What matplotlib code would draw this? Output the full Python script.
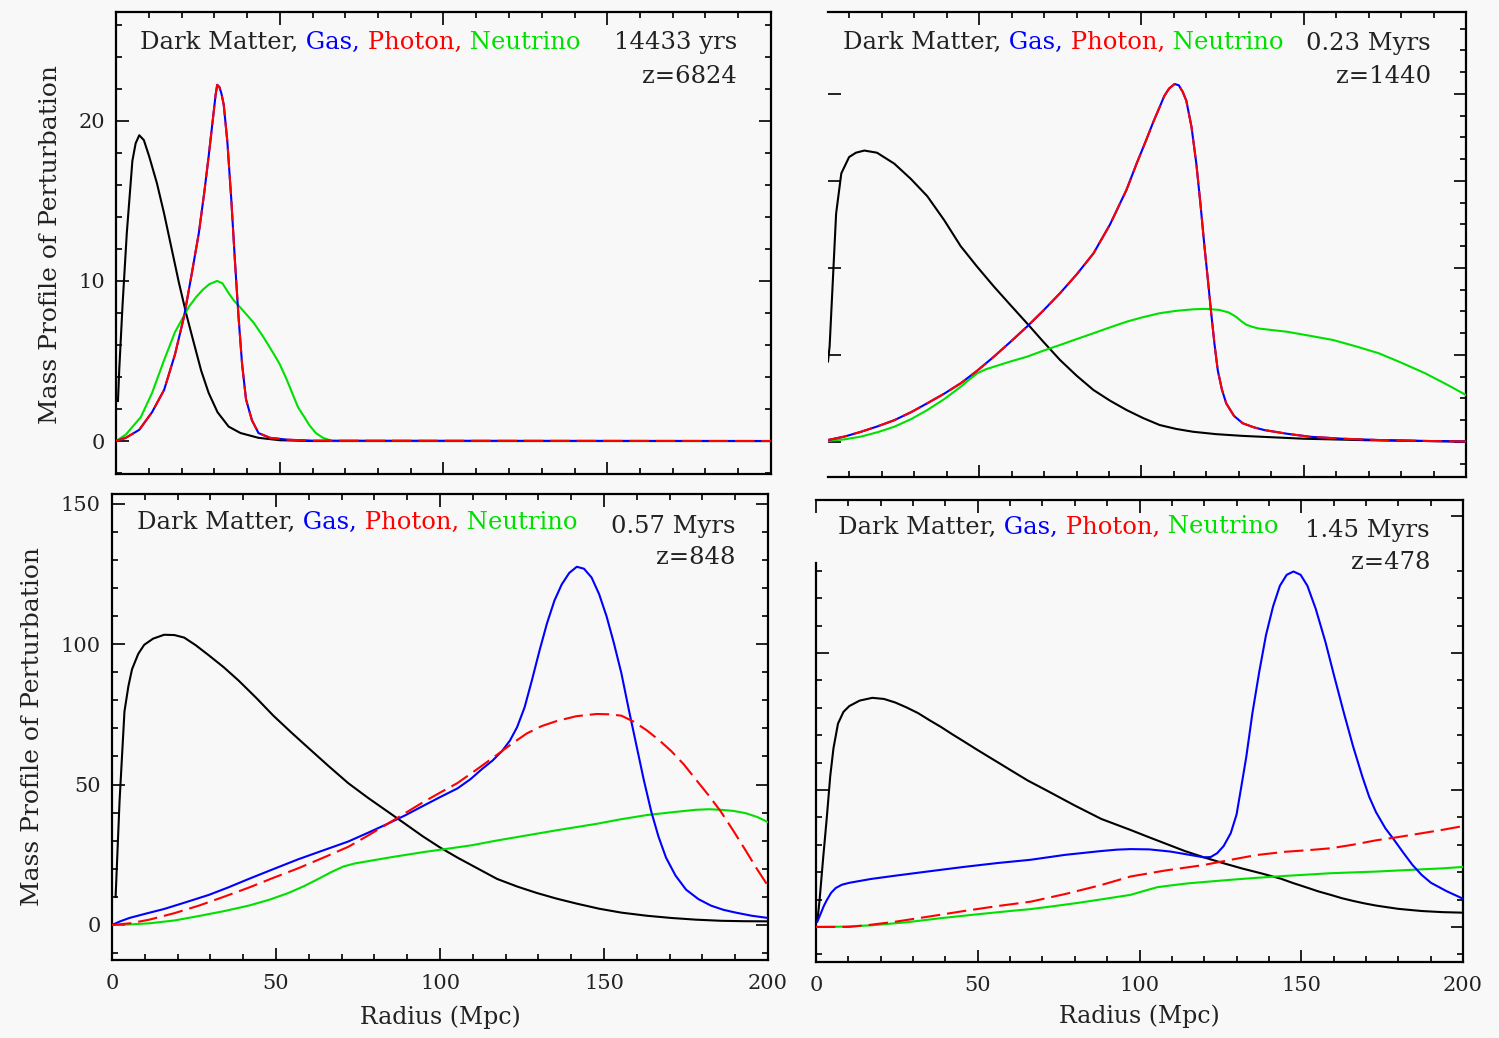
import matplotlib
matplotlib.use("Agg")
import matplotlib.pyplot as plt
from matplotlib.ticker import MultipleLocator, NullFormatter, FixedLocator

plt.rcParams['font.family'] = ['DejaVu Serif', 'DejaVu Sans']
plt.rcParams['lines.scale_dashes'] = False

# ---------------- data ----------------
# Panel 1 : 14433 yrs, z=6824
p1_dm_x = [0.6, 1.0, 2.0, 3.3, 5.0, 6.0, 7.1, 8.5, 10.1, 12.5, 14.7, 17, 19.2, 21.5, 23.8, 26, 28.3,
           31, 34.4, 38, 43.5, 50, 60, 200]
p1_dm_y = [2.5, 4.5, 8.5, 13, 17.5, 18.6, 19.1, 18.8, 17.8, 16.1, 14.2, 12, 9.9, 7.9, 6.1, 4.4, 3.0,
           1.8, 0.9, 0.5, 0.2, 0.05, 0, 0]
p1_gas_x = [0, 3, 7.1, 11, 14.7, 18, 20.8, 23, 25.3, 27, 28.3, 29.8, 30.4, 30.9, 31.6, 32.2, 32.9, 34,
            35.2, 36.3, 37.4, 38.5, 39.7, 41.5, 43.5, 47, 52.5, 60, 200]
p1_gas_y = [0, 0.2, 0.7, 1.8, 3.2, 5.4, 7.8, 10.3, 13, 15.6, 17.8, 20.5, 21.6, 22.25, 22.1, 21.7, 21.0, 18.7,
            15.1, 11.3, 7.8, 4.8, 2.6, 1.3, 0.5, 0.2, 0.08, 0.02, 0]
p1_pho_x = p1_gas_x
p1_pho_y = p1_gas_y
p1_neu_x = [0, 3, 7.6, 11, 14.7, 18, 22.3, 24.5, 26.5, 28.5, 30.9, 32.5, 34.2, 35.9, 39, 42, 45, 48,
            50, 52, 54, 55.6, 57.5, 59, 61, 63.2, 66, 200]
p1_neu_y = [0, 0.4, 1.5, 3.0, 5.06, 6.8, 8.4, 9.0, 9.45, 9.8, 10.0, 9.85, 9.3, 8.8, 8.1, 7.4, 6.5, 5.5,
            4.8, 3.9, 2.9, 2.1, 1.5, 1.0, 0.5, 0.2, 0, 0]

# Panel 2 : 0.23 Myrs, z=1440
p2_dm_x = [3.4, 3.9, 4.9, 5.9, 7.5, 9.9, 12, 14.6, 18.5, 23.8, 28.9, 34, 39.2, 44.3, 49.4, 54.5, 59.6,
           64.7, 69.8, 74.9, 80, 85.2, 90.3, 95.4, 100.5, 105.6, 110.7, 115.9, 123, 131.2, 150, 170, 200]
p2_dm_y = [3.7, 4.4, 7.45, 10.5, 12.35, 13.1, 13.3, 13.4, 13.3, 12.8, 12.1, 11.3, 10.2, 9.0, 8.05, 7.15,
           6.3, 5.46, 4.6, 3.77, 3.05, 2.39, 1.9, 1.47, 1.1, 0.78, 0.6, 0.47, 0.36, 0.28, 0.15, 0.08, 0.02]
p2_gas_x = [3.4, 8.5, 13.6, 18.7, 23.8, 29, 34, 39.2, 44.3, 49.4, 54.5, 59.6, 64.7, 69.8, 74.9, 80,
            85.2, 90.3, 95.4, 98.5, 101.5, 103.6, 105.6, 107, 108.5, 110.2, 111.5, 112.7, 113.8, 115.4,
            116.9, 118.2, 119.4, 120.5, 121.5, 122.5, 123.5, 124.8, 126.1, 128.5, 131.2, 134.5, 137.8,
            144.8, 151.9, 162, 173, 186, 200]
p2_gas_y = [0.09, 0.25, 0.47, 0.72, 1.0, 1.37, 1.78, 2.22, 2.7, 3.28, 3.92, 4.6, 5.3, 6.05, 6.84, 7.7,
            8.67, 10.0, 11.6, 12.8, 13.9, 14.7, 15.4, 15.9, 16.25, 16.46, 16.4, 16.1, 15.7, 14.5,
            12.8, 10.9, 9.0, 7.4, 5.9, 4.5, 3.3, 2.4, 1.78, 1.2, 0.86, 0.68, 0.55, 0.38, 0.24, 0.15,
            0.09, 0.05, 0.02]
p2_pho_x = p2_gas_x
p2_pho_y = p2_gas_y
p2_neu_x = [3.4, 8.5, 13.6, 18.7, 23.8, 29, 34, 39.2, 44.3, 47, 49.4, 52, 54.5, 59.6, 64.7, 69.8, 74.9,
            80, 85.2, 90.3, 95.4, 100.5, 105.6, 110.7, 115.9, 120, 124, 126.8, 129.1, 130.8, 132.2, 134,
            136, 140, 144.8, 152, 159, 166, 173.1, 180, 187.4, 194, 200]
p2_neu_y = [0.05, 0.12, 0.25, 0.45, 0.7, 1.05, 1.47, 1.97, 2.54, 2.88, 3.16, 3.34, 3.46, 3.7, 3.92, 4.2,
            4.46, 4.73, 5.0, 5.27, 5.53, 5.74, 5.92, 6.03, 6.1, 6.12, 6.07, 5.96, 5.76, 5.55, 5.4, 5.3,
            5.22, 5.15, 5.07, 4.88, 4.69, 4.4, 4.08, 3.65, 3.16, 2.65, 2.16]

# Panel 3 : 0.57 Myrs, z=848
p3_dm_x = [1.1, 2.3, 3.8, 5.0, 6.1, 8.0, 9.8, 12.5, 15.9, 19, 22, 25.5, 29.5, 34, 38.6, 44, 49.2, 54.5,
           59.8, 66, 72, 78, 84, 89.5, 94.7, 100, 105.3, 111.5, 117.4, 123.5, 129.5, 135.5, 141.7, 148.5,
           155.3, 163, 170.5, 178, 185.6, 192.5, 200]
p3_dm_y = [10, 44, 76, 85, 91, 96.5, 99.7, 101.9, 103.3, 103.2, 102.3, 99.6, 96, 91.8, 87, 80.8, 74.5,
           68.7, 63.1, 56.6, 50.5, 45.3, 40.4, 35.9, 31.6, 27.6, 24, 20.1, 16.4, 13.7, 11.4, 9.4, 7.6,
           5.8, 4.4, 3.3, 2.5, 1.9, 1.5, 1.35, 1.3]
p3_gas_x = [0, 2.5, 5.3, 10.5, 15.9, 22.5, 29.5, 35.5, 41.7, 49, 56.8, 64.5, 72, 78, 84, 89.5, 94.7,
            100, 105.3, 109.3, 112.9, 116, 118.9, 121.3, 123.5, 125.8, 128, 130.3, 132.6, 134.9, 137.1,
            139.4, 141.7, 143.9, 146.2, 148.5, 150.8, 153, 155.3, 157.5, 159.8, 162.1, 164.4, 166.6,
            168.9, 171.8, 175, 178.8, 182.6, 186.4, 190.2, 195, 200]
p3_gas_y = [0, 1.3, 2.5, 4.1, 5.7, 8.1, 10.7, 13.4, 16.4, 19.8, 23.4, 26.6, 29.7, 32.8, 36, 39.1, 42.3,
            45.5, 48.6, 51.9, 55.6, 58.5, 61.9, 65.6, 70.4, 77.5, 87, 97.5, 107.3, 115.5, 121.2, 125.3,
            127.5, 126.8, 123.7, 117.8, 109.8, 100.4, 89.6, 77, 64.4, 51.8, 40.4, 31.5, 24, 17.6,
            12.6, 9.2, 6.9, 5.4, 4.4, 3.3, 2.5]
p3_pho_x = [0, 5.5, 11.4, 19, 26.5, 34, 41.7, 49, 56.8, 64.5, 72, 78, 84, 89.5, 94.7, 100, 105.3, 111.5,
            117.4, 122, 126.5, 131, 135.6, 141.5, 147.7, 151.5, 155.3, 159, 162.9, 166.7, 170.5, 174.3,
            178, 181.8, 185.6, 189.4, 193.2, 196.6, 200]
p3_pho_y = [0, 0.6, 1.9, 4.2, 6.9, 10.0, 13.3, 16.7, 20.2, 24.0, 27.8, 31.8, 36, 39.9, 43.6, 47.1, 50.5,
            55.6, 60.6, 64.6, 68.2, 70.8, 72.6, 74.3, 75.1, 75.0, 74.5, 72.4, 69.4, 65.9, 61.9, 57.2,
            51.8, 46.3, 40.4, 33.6, 26.5, 20.0, 13.9]
p3_neu_x = [0, 5.5, 11.4, 19, 26.5, 34, 41.7, 48, 53.8, 58.5, 62.9, 66.8, 70.5, 74, 78, 86, 94.7, 102,
            109.8, 117, 125, 136, 147.7, 155, 162.9, 170.5, 178, 182, 185.6, 189.5, 193.2, 196.8, 200]
p3_neu_y = [0, 0.2, 0.6, 1.6, 3.2, 4.9, 6.9, 9.0, 11.4, 13.8, 16.4, 18.8, 20.8, 21.9, 22.7, 24.3, 25.9,
            27.1, 28.4, 30.0, 31.6, 33.8, 36, 37.6, 39.1, 40.1, 41, 41.2, 41, 40.6, 39.8, 38.4, 36.6]

# Panel 4 : 1.45 Myrs, z=478
p4_dm_x = [0.5, 1.1, 2.2, 3.3, 4.4, 5.4, 6.8, 8.5, 10.3, 13.5, 17.4, 21, 24.5, 28, 31.6, 35, 38.6,
           42, 45.7, 49.2, 52.8, 56.3, 59.9, 65.5, 71.3, 80, 88.2, 97.2, 103, 108.5, 114, 119.9, 125.8,
           131.8, 137.8, 143.7, 147.5, 151.4, 155.2, 159.1, 162.5, 166, 169.5, 173.1, 176.5, 180,
           183.6, 187.3, 193.6, 200]
p4_dm_y = [3, 9.7, 25, 39.4, 55, 65.2, 74.2, 78.5, 80.6, 82.6, 83.6, 83.2, 81.9, 80.1, 78, 75.5, 73,
           70.4, 67.7, 65.1, 62.5, 60, 57.4, 53.4, 49.8, 44.3, 39.4, 35.4, 32.7, 30.2, 27.7, 25.4, 23.3,
           21.3, 19.5, 17.6, 16.0, 14.5, 13.0, 11.7, 10.5, 9.5, 8.6, 7.8, 7.2, 6.6, 6.2, 5.8, 5.4, 5.2]
p4_gas_x = [0.4, 1.5, 2.4, 3.3, 4.7, 6.1, 8, 10.3, 17, 24.5, 35, 45.7, 56, 66.3, 77, 88.2, 93, 97.2,
            103, 109.6, 115, 119.9, 122, 124, 126, 128.2, 130, 131.3, 133, 134.9, 137, 139.1, 141.3,
            143.4, 145.5, 147.6, 149.8, 151.9, 154.5, 157.5, 160.3, 163.2, 166, 168.9, 171, 173.1,
            176, 178.8, 181.6, 184.4, 187.2, 190.1, 195, 200]
p4_gas_y = [1.9, 5, 7.6, 9.7, 12.5, 14.2, 15.4, 16.1, 17.5, 18.7, 20.3, 21.9, 23.3, 24.5, 26.3, 27.7,
            28.2, 28.4, 28.3, 27.5, 26.4, 25.4, 25.5, 26.9, 29.5, 34.2, 41, 50, 62, 78, 93, 106.5, 117,
            124.5, 128.5, 129.7, 128.5, 124.5, 116, 103.9, 91, 78, 66, 54.8, 47.5, 41.9, 36,
            31.6, 27, 22.6, 19, 16.1, 13, 10.3]
p4_pho_x = [0, 10.3, 17, 24.5, 35, 45.7, 56, 66.3, 77, 88.2, 97.2, 108, 119.9, 128.2, 136, 144.8,
            152, 159.1, 166, 173.1, 180, 187.3, 194, 200]
p4_pho_y = [0, 0, 0.8, 1.9, 3.8, 5.8, 7.6, 9.2, 12, 15.3, 18.4, 20.6, 22.6, 24.5, 26.2, 27.4,
            28.0, 28.7, 30.0, 31.6, 32.8, 34.2, 35.5, 36.8]
p4_neu_x = [0, 8, 17.4, 28, 38.6, 49, 59.9, 66.3, 73, 81.1, 89, 97.2, 101, 105.5, 110, 115, 121, 128.2,
            136, 144.8, 152, 159.1, 166, 173.1, 180, 187, 194, 200]
p4_neu_y = [0, 0.1, 0.6, 1.7, 3.2, 4.5, 5.8, 6.5, 7.5, 8.8, 10.2, 11.7, 13.0, 14.5, 15.2, 15.9, 16.5,
            17.2, 17.9, 18.6, 19.1, 19.6, 19.9, 20.2, 20.6, 21.0, 21.4, 21.9]

times = ["14433 yrs", "0.23 Myrs", "0.57 Myrs", "1.45 Myrs"]
redshifts = ["z=6824", "z=1440", "z=848", "z=478"]
legend_words = ["Dark Matter,", " Gas,", " Photon,", " Neutrino"]
xticks_labels = ["0", "50", "100", "150", "200"]

# ---------------- style ----------------
BG = '#f8f8f8'
C_TXT = '#222222'
C_DM, C_GAS, C_PHO, C_NEU = '#000000', '#0000ff', '#ff0000', '#00e000'
LW = 1.5
DASH = (14, 5)
FS_TITLE = 17.5

fig = plt.figure(figsize=(14.99, 10.38), dpi=100, facecolor=BG)

W, H = 1499.0, 1038.0
def box(l, r, t, b):
    return [l / W, 1 - b / H, (r - l) / W, (b - t) / H]

axes = [
    fig.add_axes(box(116, 771, 12, 474)),
    fig.add_axes(box(828, 1466, 12, 477)),
    fig.add_axes(box(112, 768, 494, 960)),
    fig.add_axes(box(816, 1463, 500, 962)),
]

data = [
    (p1_dm_x, p1_dm_y, p1_gas_x, p1_gas_y, p1_pho_x, p1_pho_y, p1_neu_x, p1_neu_y),
    (p2_dm_x, p2_dm_y, p2_gas_x, p2_gas_y, p2_pho_x, p2_pho_y, p2_neu_x, p2_neu_y),
    (p3_dm_x, p3_dm_y, p3_gas_x, p3_gas_y, p3_pho_x, p3_pho_y, p3_neu_x, p3_neu_y),
    (p4_dm_x, p4_dm_y, p4_gas_x, p4_gas_y, p4_pho_x, p4_pho_y, p4_neu_x, p4_neu_y),
]

xlims = [(0, 200), (3.4, 200), (0, 200), (0, 200)]
ylims = [(-2.06, 26.8), (-1.61, 19.77), (-12.46, 153.4), (-12.8, 155.8)]
ymajor = [10, 4, 50, 50]
yminor = [2, 1, 10, 10]

title_pos = [(0.0366, 0.935), (0.0235, 0.935), (0.038, 0.938), (0.034, 0.9416)]
time_pos = [(0.948, 0.933, 0.861), (0.945, 0.933, 0.862), (0.95, 0.931, 0.863), (0.949, 0.935, 0.864)]

for i, ax in enumerate(axes):
    dmx, dmy, gx, gy, px, py, nx, ny = data[i]
    ax.set_facecolor(BG)
    ax.plot(dmx, dmy, color=C_DM, lw=LW, zorder=3)
    ax.plot(nx, ny, color=C_NEU, lw=LW, zorder=3)
    ax.plot(gx, gy, color=C_GAS, lw=LW, zorder=4)
    ax.plot(px, py, color=C_PHO, lw=LW, dashes=DASH, zorder=5)

    ax.set_xlim(*xlims[i])
    ax.set_ylim(*ylims[i])
    ax.xaxis.set_major_locator(MultipleLocator(50))
    ax.xaxis.set_minor_locator(MultipleLocator(10))
    if i == 3:
        ax.yaxis.set_major_locator(FixedLocator([0, 50, 100, 150]))
        ax.yaxis.set_minor_locator(FixedLocator([-10, 10, 20, 30, 40, 60, 70, 80, 90,
                                                 110, 120, 130]))
    else:
        ax.yaxis.set_major_locator(MultipleLocator(ymajor[i]))
        ax.yaxis.set_minor_locator(MultipleLocator(yminor[i]))
    ax.tick_params(which='both', direction='in', top=True, right=True, width=1.4,
                   labelsize=15, colors=C_TXT)
    ax.tick_params(which='major', length=9)
    ax.tick_params(which='minor', length=4.5)
    ax.tick_params(axis='x', pad=10)
    ax.tick_params(axis='y', pad=8)
    for s in ax.spines.values():
        s.set_linewidth(1.6)

    if i in (0, 1):
        ax.xaxis.set_major_formatter(NullFormatter())
    else:
        ax.set_xticks([0, 50, 100, 150, 200])
        ax.set_xticklabels(xticks_labels)
        ax.set_xlabel("Radius (Mpc)", fontsize=17, color=C_TXT)
        ax.xaxis.set_label_coords(0.5 if i == 2 else 0.4992, -0.097 if i == 2 else -0.093)
    if i in (1, 3):
        ax.yaxis.set_major_formatter(NullFormatter())
    else:
        ax.set_ylabel("Mass Profile of Perturbation", fontsize=18, color=C_TXT)
        ax.yaxis.set_label_coords(-0.082 if i == 0 else -0.104, 0.496 if i == 0 else 0.502)

    if i == 1:
        ax.spines['left'].set_visible(False)
        ax.tick_params(which='minor', left=False)
    if i == 3:
        ax.spines['left'].set_bounds(ylims[3][0], 132.8)

    # coloured title words
    tx, ty = title_pos[i]
    colors = [C_DM, C_GAS, C_PHO, C_NEU]
    t = ax.text(tx, ty, legend_words[0], transform=ax.transAxes, fontsize=FS_TITLE,
                color=C_TXT, ha='left', va='center')
    prev = t
    for w, c in zip(legend_words[1:], colors[1:]):
        prev = ax.annotate(w, xy=(1, 0), xycoords=prev, ha='left', va='bottom',
                           fontsize=FS_TITLE, color=c)
    rx, ry1, ry2 = time_pos[i]
    ax.text(rx, ry1, times[i], transform=ax.transAxes, fontsize=FS_TITLE, color=C_TXT,
            ha='right', va='center')
    ax.text(rx, ry2, redshifts[i], transform=ax.transAxes, fontsize=FS_TITLE, color=C_TXT,
            ha='right', va='center')

# hide left-side ticks of the lower-right panel above the visible part of its left spine
fig.canvas.draw()
ax4 = axes[3]
for tk in ax4.yaxis.get_major_ticks() + ax4.yaxis.get_minor_ticks():
    if tk.get_loc() > 133:
        tk.tick1line.set_visible(False)

fig.savefig("out.png", dpi=100, facecolor=BG)
